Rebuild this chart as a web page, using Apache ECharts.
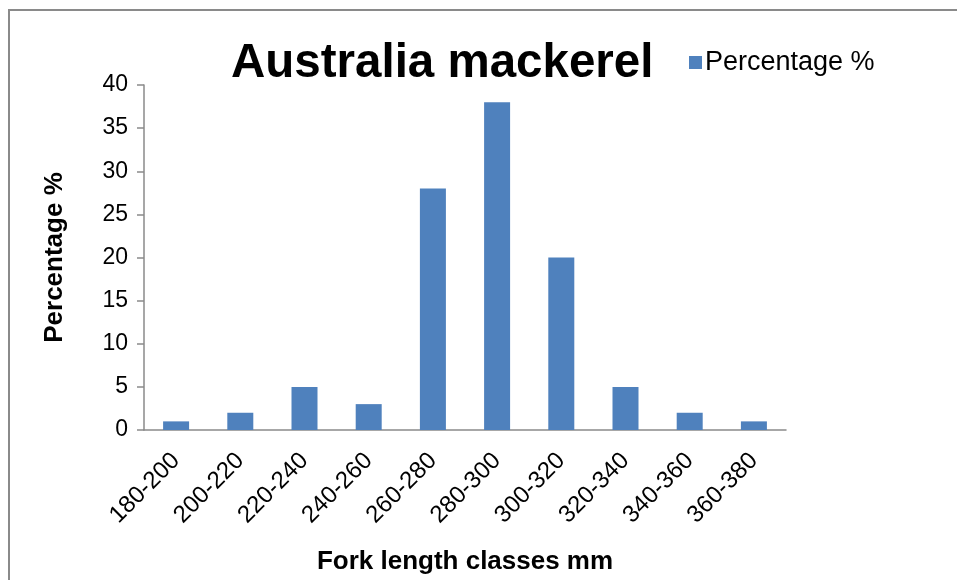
<!DOCTYPE html>
<html lang="en">
<head>
    <meta charset="UTF-8">
    <title>Australia mackerel</title>
    <script src="https://cdn.jsdelivr.net/npm/echarts@6/dist/echarts.min.js"></script>
    <style>
        body { margin: 0; background: #fff; }
        #frame { position: absolute; left: 8px; top: 9px; width: 1000px; height: 1000px;
                 border-left: 2px solid #8a8a8a; border-top: 2px solid #8a8a8a; }
        #main { position: absolute; left: 0; top: 0; width: 957px; height: 580px; }
    </style>
</head>
<body>
<div id="frame"></div>
<div id="main"></div>
<script type="text/javascript">
    // fork length classes and share of fish in each
    var classes = ['180-200', '200-220', '220-240', '240-260', '260-280',
                   '280-300', '300-320', '320-340', '340-360', '360-380'];
    var percentage = [1, 2, 5, 3, 28, 38, 20, 5, 2, 1];
    var seriesName = 'Percentage %';

    var font = "'Liberation Sans', Arial, sans-serif";
    var axisGrey = '#8a8a8a';

    var myChart = echarts.init(document.getElementById('main'));
    myChart.setOption({
        animation: false,
        textStyle: { fontFamily: font },
        title: {
            text: 'Australia mackerel',
            left: 226,
            top: 35,
            textStyle: { fontSize: 47.5, fontWeight: 'bold', color: '#000', fontFamily: font }
        },
        legend: {
            left: 689,
            top: 49,
            padding: 0,
            itemWidth: 13,
            itemHeight: 13,
            itemGap: 5,
            icon: 'rect',
            itemStyle: { borderWidth: 0 },
            textStyle: { fontSize: 27, color: '#000', fontFamily: font, padding: [0, 0, 0, -2] },
            data: [seriesName]
        },
        grid: { left: 144, right: 171, top: 85, bottom: 149, containLabel: false },
        xAxis: {
            type: 'category',
            data: classes,
            name: 'Fork length classes mm',
            nameLocation: 'middle',
            nameGap: 119,
            nameTextStyle: { fontSize: 26, fontWeight: 'bold', color: '#000', fontFamily: font },
            axisLine: { lineStyle: { color: axisGrey, width: 1.5 } },
            axisTick: { length: 8, lineStyle: { color: axisGrey, width: 1.5 } },
            axisLabel: { rotate: 45, margin: 27, fontSize: 24, color: '#000', fontFamily: font, interval: 0 }
        },
        yAxis: {
            type: 'value',
            min: 0,
            max: 40,
            interval: 5,
            name: 'Percentage %',
            nameLocation: 'middle',
            nameGap: 76,
            nameTextStyle: { fontSize: 26, fontWeight: 'bold', color: '#000', fontFamily: font },
            axisLine: { show: true, lineStyle: { color: axisGrey, width: 1.5 } },
            axisTick: { show: true, length: 7, lineStyle: { color: axisGrey, width: 1.5 } },
            splitLine: { show: false },
            axisLabel: { margin: 16, fontSize: 23, color: '#000', fontFamily: font }
        },
        series: [{
            name: seriesName,
            type: 'bar',
            barWidth: 26,
            itemStyle: { color: '#4F81BD' },
            data: percentage
        }]
    });
</script>
</body>
</html>
